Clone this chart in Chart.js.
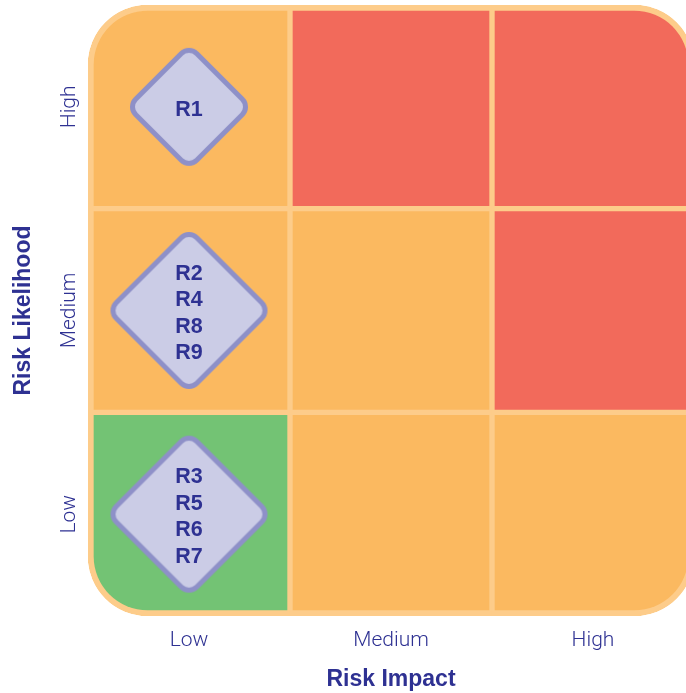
<!DOCTYPE html>
<html>
<head>
<meta charset="utf-8">
<title>Risk Matrix</title>
<script src="https://cdn.jsdelivr.net/npm/chart.js@4/dist/chart.umd.min.js"></script>
<style>
  html, body { margin: 0; padding: 0; background: #ffffff; overflow: hidden; }
  #wrap { width: 686px; height: 693px; overflow: hidden; position: relative; }
  canvas { display: block; }
</style>
</head>
<body>
<div id="wrap"><canvas id="matrix" width="700" height="693"></canvas></div>
<script>
// Axis categories
const impactLevels = ['Low', 'Medium', 'High'];
const likelihoodLevels = ['Low', 'Medium', 'High'];

// Cell rating across the impact columns, one list per likelihood row
const ratingLowLikelihood = ['low', 'medium', 'medium'];
const ratingMediumLikelihood = ['medium', 'medium', 'high'];
const ratingHighLikelihood = ['medium', 'high', 'high'];

// Register of assessed risks
const riskIds = ['R1', 'R2', 'R3', 'R4', 'R5', 'R6', 'R7', 'R8', 'R9'];
const riskImpact = ['Low', 'Low', 'Low', 'Low', 'Low', 'Low', 'Low', 'Low', 'Low'];
const riskLikelihood = ['High', 'Medium', 'Low', 'Medium', 'Low', 'Low', 'Low', 'Medium', 'Medium'];

// Styling
const INK = '#2E3192';
const BORDER = '#FDCC8A';
const RATING_COLORS = { low: '#73C374', medium: '#FBB960', high: '#F26A5B' };
const OUTER_RADIUS = 60;

const ratingRows = [ratingLowLikelihood, ratingMediumLikelihood, ratingHighLikelihood];

// Group risks into the cells they fall in
const riskCells = [];
likelihoodLevels.forEach((lk, row) => {
  impactLevels.forEach((im) => {
    const ids = riskIds.filter((id, i) => riskImpact[i] === im && riskLikelihood[i] === lk);
    if (ids.length) riskCells.push({ x: im, y: row + 0.5, ids });
  });
});

// Rounded diamond marker, sized to the number of labels it carries
const markerCache = {};
function diamondMarker(lines) {
  const h = lines > 1 ? 78.5 : 59;
  if (markerCache[h]) return markerCache[h];
  const size = Math.ceil(2 * h) + 2;
  const c = document.createElement('canvas');
  c.width = size; c.height = size;
  const g = c.getContext('2d');
  const lw = 5, r = 11;
  const ext = h - lw / 2;
  const half = (ext - r) / Math.SQRT2 + r;
  g.translate(size / 2, size / 2);
  g.rotate(Math.PI / 4);
  g.beginPath();
  g.roundRect(-half, -half, 2 * half, 2 * half, r);
  g.fillStyle = '#CBCCE6';
  g.fill();
  g.lineWidth = lw;
  g.strokeStyle = '#8E90C8';
  g.stroke();
  markerCache[h] = c;
  return c;
}

// One stacked bar dataset per likelihood row; each bar is a matrix cell
const cellDatasets = likelihoodLevels.map((lk, row) => ({
  type: 'bar',
  label: lk,
  order: 1,
  data: impactLevels.map(() => 1),
  backgroundColor: ratingRows[row].map((r) => RATING_COLORS[r]),
  borderColor: BORDER,
  borderSkipped: false,
  borderWidth: impactLevels.map((_, col) => ({
    left: col === 0 ? 6 : 3,
    right: col === impactLevels.length - 1 ? 6 : 3,
    top: row === likelihoodLevels.length - 1 ? 6 : 3,
    bottom: row === 0 ? 6 : 3
  })),
  borderRadius: impactLevels.map((_, col) => {
    const first = col === 0, last = col === impactLevels.length - 1;
    const top = row === likelihoodLevels.length - 1, bottom = row === 0;
    return {
      topLeft: first && top ? OUTER_RADIUS : 0,
      topRight: last && top ? OUTER_RADIUS : 0,
      bottomLeft: first && bottom ? OUTER_RADIUS : 0,
      bottomRight: last && bottom ? OUTER_RADIUS : 0
    };
  }),
  categoryPercentage: 1,
  barPercentage: 1,
  yAxisID: 'y'
}));

const riskDataset = {
  type: 'scatter',
  label: 'Risks',
  order: 0,
  data: riskCells,
  yAxisID: 'yr',
  pointRadius: 40,
  pointHoverRadius: 40,
  pointStyle: (ctx) => diamondMarker(ctx.raw ? ctx.raw.ids.length : 1)
};

// Writes the risk IDs inside each diamond
const riskLabels = {
  id: 'riskLabels',
  afterDatasetsDraw(chart) {
    const meta = chart.getDatasetMeta(0);
    const ctx = chart.ctx;
    ctx.save();
    ctx.font = 'bold 21.5px "Liberation Sans", Arial, sans-serif';
    ctx.textAlign = 'center';
    ctx.textBaseline = 'middle';
    ctx.fillStyle = INK;
    const lh = 26.4;
    meta.data.forEach((pt, i) => {
      const ids = chart.data.datasets[0].data[i].ids;
      ids.forEach((id, k) => {
        ctx.fillText(id, pt.x, pt.y + 3 + (k - (ids.length - 1) / 2) * lh);
      });
    });
    ctx.restore();
  }
};

new Chart(document.getElementById('matrix'), {
  data: {
    labels: impactLevels,
    datasets: [riskDataset, ...cellDatasets]
  },
  options: {
    responsive: false,
    animation: false,
    events: [],
    layout: { padding: { top: 5, right: 6, left: 0, bottom: 0 }, autoPadding: false },
    plugins: { legend: { display: false }, tooltip: { enabled: false } },
    scales: {
      x: {
        type: 'category',
        stacked: true,
        offset: true,
        grid: { display: false, drawTicks: false },
        border: { display: false },
        ticks: {
          color: INK,
          padding: 12,
          font: { family: 'Roboto, "Liberation Sans", Arial, sans-serif', size: 21, weight: 300 }
        },
        title: {
          display: true,
          text: 'Risk Impact',
          color: INK,
          padding: { top: 0, bottom: 0 },
          font: { family: '"Liberation Sans", Arial, sans-serif', size: 23, weight: 'bold' }
        },
        afterFit(scale) { scale.height = 77; }
      },
      y: {
        type: 'linear',
        stacked: true,
        min: 0,
        max: likelihoodLevels.length,
        grid: { display: false, drawTicks: false },
        border: { display: false },
        afterBuildTicks(scale) {
          scale.ticks = likelihoodLevels.map((_, i) => ({ value: i + 0.5 }));
        },
        ticks: {
          color: INK,
          minRotation: 90,
          maxRotation: 90,
          crossAlign: 'center',
          padding: -19.5,
          font: { family: 'Roboto, "Liberation Sans", Arial, sans-serif', size: 21, weight: 300 },
          callback: (value) => likelihoodLevels[Math.floor(value)]
        },
        title: {
          display: true,
          text: 'Risk Likelihood',
          color: INK,
          padding: { top: 10, bottom: 0 },
          font: { family: '"Liberation Sans", Arial, sans-serif', size: 23, weight: 'bold' }
        },
        afterFit(scale) { scale.width = 88; }
      },
      yr: {
        type: 'linear',
        display: false,
        min: 0,
        max: likelihoodLevels.length
      }
    }
  },
  plugins: [riskLabels]
});
</script>
</body>
</html>
